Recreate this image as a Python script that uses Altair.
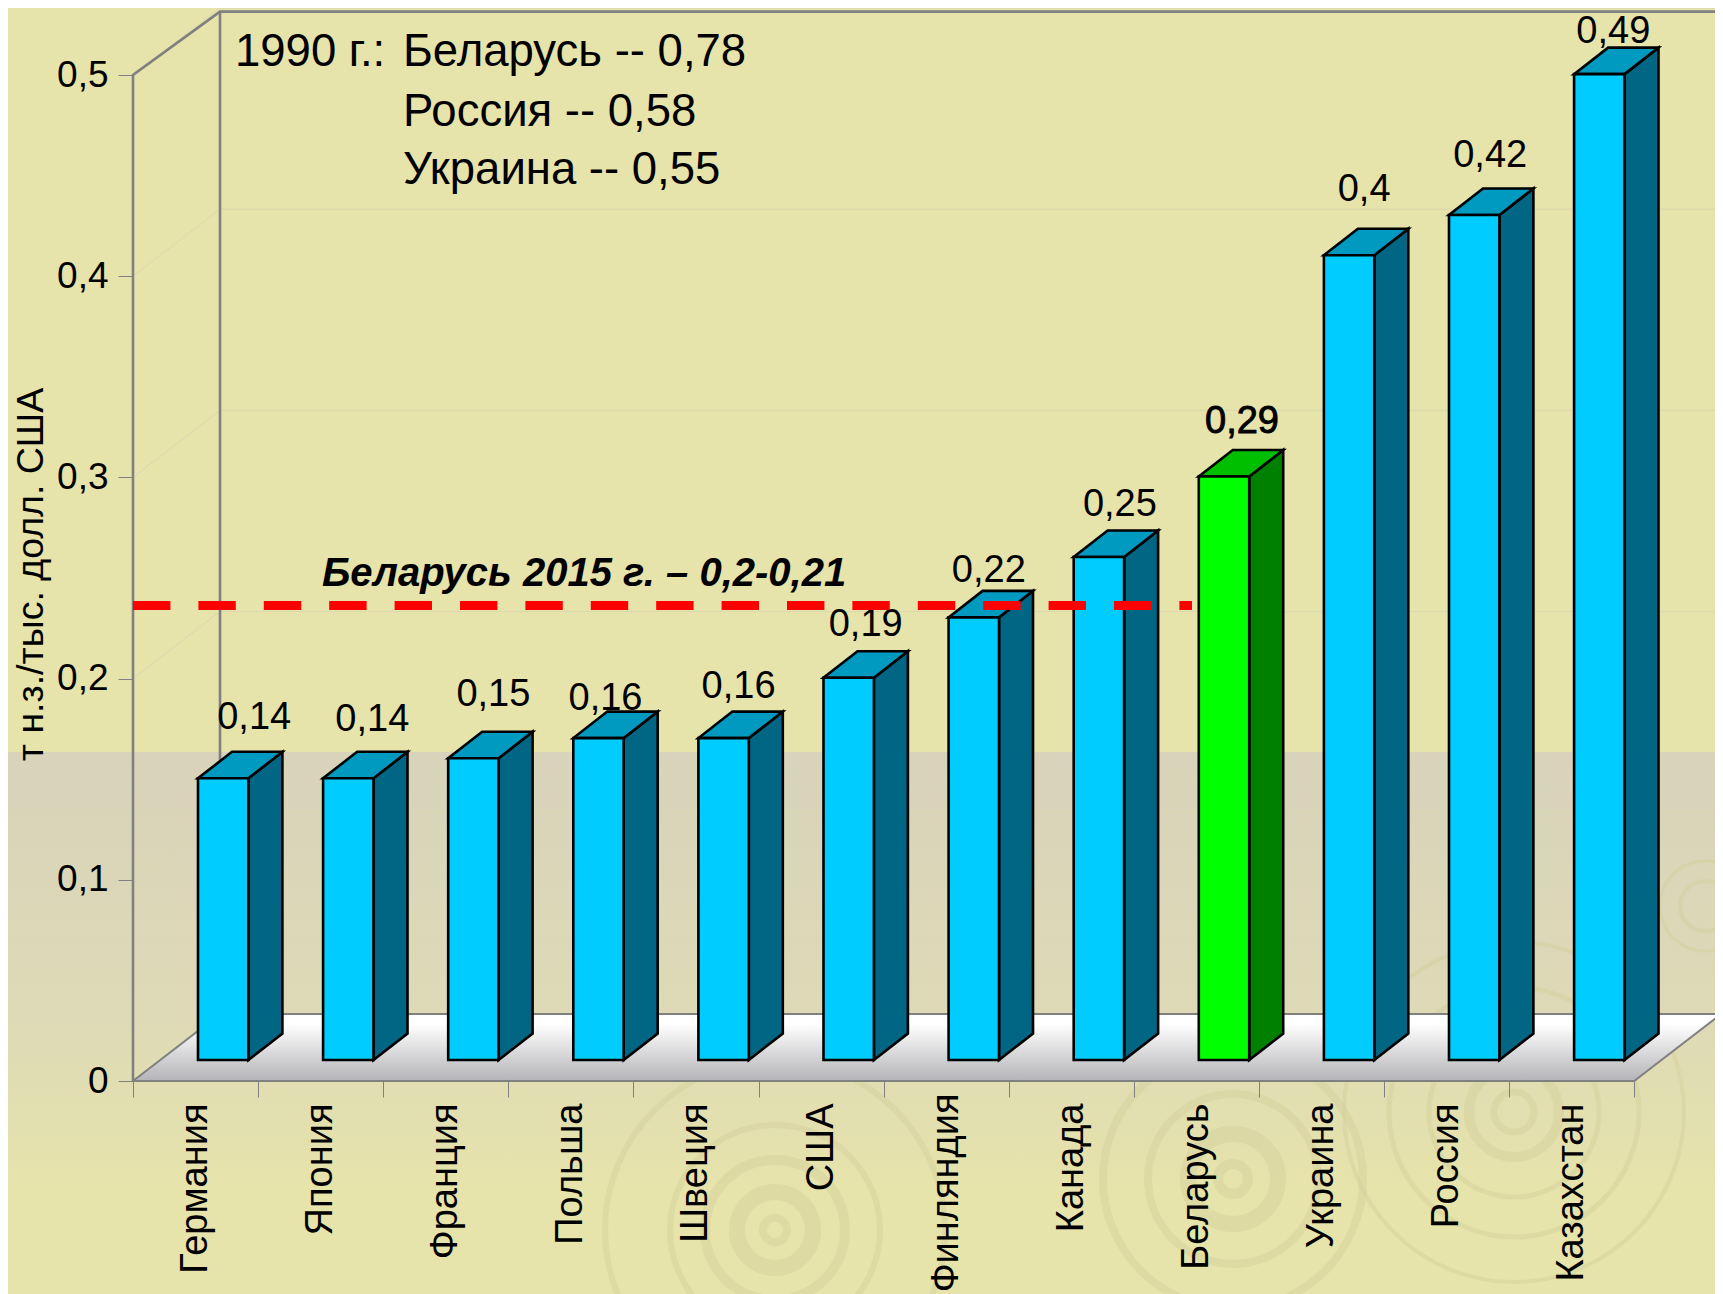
import altair as alt
import pandas as pd

countries = ["Германия", "Япония", "Франция", "Польша", "Швеция", "США", "Финляндия",
             "Канада", "Беларусь", "Украина", "Россия", "Казахстан"]
values = [0.14, 0.14, 0.15, 0.16, 0.16, 0.19, 0.22, 0.25, 0.29, 0.4, 0.42, 0.49]
# how far each hand-placed value label sits from its default place, in pixels
label_lift = [23, 21, 26, 2, 14, 15, 9, 15, 17, 28, 21, 5]
label_shift = [14, 7, 3, -10, -2, 0, -2, 4, 1, -2, -1, -3]
y_ticks = [0, 0.1, 0.2, 0.3, 0.4, 0.5]
target_value = 0.2363
target_text = "Беларусь 2015 г. – 0,2-0,21"
note_heads = ["1990 г.:"]
note_lines = ["Беларусь -- 0,78", "Россия -- 0,58", "Украина -- 0,55"]
y_title = "т н.з./тыс. долл. США"

# scale and depth constants
W, H = 1582, 1070
UX, UY = 125.1, 2012.0
XMAX = W / UX
YMAX = H / UY
WALL_DX, WALL_DY = 87 / UX, 67 / UY
WALL_TOP = 0.5315
BAR_LEFT, BAR_W = 65 / UX, 50.4 / UX
BAR_DX, BAR_DY = 34 / UX, 26.5 / UY
BASE = 21 / UY
FONT = "Liberation Sans"
BLACK_W = 2.6
GRAY = "#808080"

x_s = alt.Scale(domain=[0, XMAX], nice=False, zero=False)
y_s = alt.Scale(domain=[0, YMAX], nice=False, zero=False)

names = "[" + ",".join(f"'{c}'" for c in countries) + "]"
x_axis = alt.Axis(
    values=[k / 2 for k in range(0, 25)],
    labelExpr=f"datum.value % 1 == 0 ? '' : {names}[floor(datum.value)]",
    labelAngle=270, labelAlign="right", labelBaseline="middle",
    labelPadding={"expr": "datum.value == 6.5 ? -4 : 6"},
    labelFont=FONT, labelFontSize=38, labelColor="black", labelOverlap=False, labelBound=False, labelFlush=False,
    labelLimit=500,
    tickSize=16, tickColor=GRAY, tickWidth=1, tickOpacity={"expr": "datum.value % 1 == 0 ? 1 : 0"},
    domain=False, grid=False, title=None, zindex=1,
)
y_axis = alt.Axis(
    values=y_ticks, format=".1~f", labelExpr="replace(datum.label, '.', ',')",
    labelFont=FONT, labelFontSize=37, labelColor="black", labelPadding=10, labelBaseline="middle",
    tickSize=15, tickColor=GRAY, tickWidth=1, domain=False, grid=False,
    title=y_title, titleFont=FONT, titleFontSize=37.5, titleFontWeight="normal", titleColor="black",
    titleAngle=270, titleX=-102, titleY=563, titleAlign="center", titleBaseline="middle", titleLimit=600, zindex=1,
)


def X(f="x", **k):
    return alt.X(f"{f}:Q", scale=x_s, axis=x_axis, **k)


def Y(f="y", **k):
    return alt.Y(f"{f}:Q", scale=y_s, axis=y_axis, **k)


X2 = alt.X2("x2:Q")
Y2 = alt.Y2("y2:Q")

# --- page tint
tint = alt.Chart(pd.DataFrame({"x": [-133 / UX], "x2": [XMAX], "y": [(1080 - 751) / UY], "y2": [-214 / UY]})).mark_rect(
    color=alt.Gradient(gradient="linear", x1=0, x2=0, y1=0, y2=1, stops=[
        alt.GradientStop(color="#D8D3BA", offset=0),
        alt.GradientStop(color="#DEDAB6", offset=0.5),
        alt.GradientStop(color="#E6E3AB", offset=0.8),
        alt.GradientStop(color="#E6E3AB", offset=1),
    ])
).encode(x=X(), x2=X2, y=Y(), y2=Y2)

# --- decorative ripples (page pixels converted to axis units)
rings = []
for cx, cy, radii in [(775, 1229, [(12, 8), (38, 16), (70, 10), (105, 6), (170, 6)]),
                      (1233, 1178, [(15, 10), (45, 16), (85, 8), (130, 8)]),
                      (1514, 1111, [(20, 7), (45, 10), (85, 5), (125, 5), (170, 4)]),
                      (1705, 905, [(25, 4), (45, 3)])]:
    for r, w in radii:
        rings.append({"x": (cx - 133) / UX, "y": (1080 - cy) / UY, "size": 4 * r * r, "w": w})
ripple = alt.Chart(pd.DataFrame(rings)).mark_point(shape="circle", filled=False, color="#D3D09C", opacity=0.45).encode(
    x=X(), y=Y(),
    size=alt.Size("size:Q", scale=None, legend=None),
    strokeWidth=alt.StrokeWidth("w:Q", scale=None, legend=None),
)

# --- wall grid lines
grid_rows = []
for v in y_ticks[1:]:
    grid_rows += [{"v": v, "x": 0, "y": v, "o": 0},
                  {"v": v, "x": WALL_DX, "y": v + WALL_DY, "o": 1},
                  {"v": v, "x": XMAX, "y": v + WALL_DY, "o": 2}]
grid = alt.Chart(pd.DataFrame(grid_rows)).mark_line(color="#DAD8B0", strokeWidth=1).encode(
    x=X(), y=Y(), detail="v:N", order="o:Q")

# --- floor
floor_df = pd.DataFrame({"x": [0, WALL_DX, 12, 12 + WALL_DX],
                         "y": [0, 0, 0, WALL_DY], "y2": [0, WALL_DY, WALL_DY, WALL_DY]})
floor = alt.Chart(floor_df).mark_area(
    color=alt.Gradient(gradient="linear", x1=0, x2=0, y1=0, y2=1, stops=[
        alt.GradientStop(color="#FFFFFF", offset=0),
        alt.GradientStop(color="#FFFFFF", offset=0.15),
        alt.GradientStop(color="#B4B4B8", offset=1),
    ]), stroke=GRAY, strokeWidth=2
).encode(x=X(), y=Y(), y2=Y2)

# --- wall frame
frame_rows = [
    {"p": "a", "o": 0, "x": 0, "y": 0}, {"p": "a", "o": 1, "x": 0, "y": 0.5},
    {"p": "a", "o": 2, "x": WALL_DX, "y": WALL_TOP}, {"p": "a", "o": 3, "x": XMAX, "y": WALL_TOP},
    {"p": "b", "o": 0, "x": WALL_DX, "y": WALL_DY}, {"p": "b", "o": 1, "x": WALL_DX, "y": WALL_TOP},
]
frame = alt.Chart(pd.DataFrame(frame_rows)).mark_line(color=GRAY, strokeWidth=2.6).encode(
    x=X(), y=Y(), detail="p:N", order="o:Q")

# --- bars
front_rows, side_rows, top_rows, label_rows = [], [], [], []
for i, (c, v, lift, shift) in enumerate(zip(countries, values, label_lift, label_shift)):
    l = i + BAR_LEFT
    r = l + BAR_W
    t = v + BASE
    front_rows.append({"c": c, "x": l, "x2": r, "y": BASE, "y2": t})
    side_rows += [{"c": c, "x": r, "y": BASE, "y2": t},
                  {"c": c, "x": r + BAR_DX, "y": BASE + BAR_DY, "y2": t + BAR_DY}]
    top_rows += [{"c": c, "x": l, "y": t, "y2": t},
                 {"c": c, "x": l + BAR_DX, "y": t, "y2": t + BAR_DY},
                 {"c": c, "x": r, "y": t, "y2": t + BAR_DY},
                 {"c": c, "x": r + BAR_DX, "y": t + BAR_DY, "y2": t + BAR_DY}]
    label_rows.append({"c": c, "v": v, "x": l + BAR_W / 2 + (17 + shift) / UX, "y": t + BAR_DY + lift / UY})

is_by = "datum.c === '" + countries[8] + "'"


def paint(green, blue):
    return alt.condition(is_by, alt.value(green), alt.value(blue))


bar_side = alt.Chart(pd.DataFrame(side_rows)).mark_area(stroke="black", strokeWidth=BLACK_W, strokeJoin="miter").encode(
    x=X(), y=Y(), y2=Y2, detail="c:N", fill=paint("#008000", "#006684"))
bar_top = alt.Chart(pd.DataFrame(top_rows)).mark_area(stroke="black", strokeWidth=BLACK_W, strokeJoin="miter").encode(
    x=X(), y=Y(), y2=Y2, detail="c:N", fill=paint("#00BF00", "#0099BF"))
bar_front = alt.Chart(pd.DataFrame(front_rows)).mark_rect(stroke="black", strokeWidth=BLACK_W).encode(
    x=X(), x2=X2, y=Y(), y2=Y2, fill=paint("#00FF00", "#00CCFF"))

labels = alt.Chart(pd.DataFrame(label_rows)).transform_calculate(
    t="replace(format(datum.v, '.2~f'), '.', ',')"
).mark_text(font=FONT, fontSize=38, color="black", align="center", baseline="alphabetic", strokeWidth=0.9).encode(
    x=X(), y=Y(), text="t:N",
    stroke=alt.condition(is_by, alt.value("black"), alt.value("transparent")))

# --- target line and notes
target = alt.Chart(pd.DataFrame({"x": [0, (1192 - 133) / UX], "y": [target_value] * 2})).mark_line(
    color="#FF0000", strokeWidth=9, strokeDash=[37.4, 28]).encode(x=X(), y=Y())
target_label = alt.Chart(pd.DataFrame({"x": [(322 - 133) / UX], "y": [(1080 - 585) / UY], "t": [target_text]})).mark_text(
    font=FONT, fontSize=40, fontWeight="bold", fontStyle="italic", align="left", baseline="alphabetic", color="black"
).encode(x=X(), y=Y(), text="t:N")

note_df = pd.DataFrame({
    "x": [(235 - 133) / UX] + [(403 - 133) / UX] * 3,
    "y": [(1080 - 65) / UY, (1080 - 65) / UY, (1080 - 125) / UY, (1080 - 183) / UY],
    "t": note_heads + note_lines,
})
notes = alt.Chart(note_df).mark_text(font=FONT, fontSize=45.5, align="left", baseline="alphabetic", color="black").encode(
    x=X(), y=Y(), text="t:N")

chart = alt.layer(
    tint, ripple, grid, floor, frame, bar_side, bar_top, bar_front, labels, target, target_label, notes
).properties(
    width=W, height=H, background="#E6E3AB",
    padding={"left": 125, "top": 3, "right": 0, "bottom": 213},
    autosize=alt.AutoSizeParams(type="none", contains="content"),
).configure_view(stroke=None)

chart.save("out.html", embed_options={"renderer": "svg", "actions": False})
